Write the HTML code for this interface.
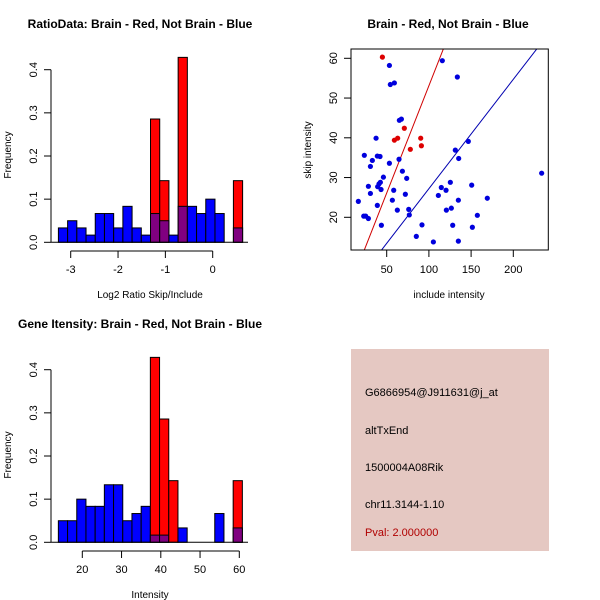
<!DOCTYPE html>
<html><head><meta charset="utf-8"><style>
html,body{margin:0;padding:0;background:#fff;}
svg{display:block;font-family:"Liberation Sans",sans-serif;}
</style></head><body>
<svg id="s" width="600" height="600" viewBox="0 0 600 600">
<rect x="351" y="349" width="198" height="202" fill="#e5c8c2"/>
<g font-size="11">
<text x="365" y="396" fill="#000">G6866954@J911631@j_at</text>
<text x="365" y="434" fill="#000">altTxEnd</text>
<text x="365" y="471" fill="#000">1500004A08Rik</text>
<text x="365" y="508" fill="#000">chr11.3144-1.10</text>
<text x="365" y="536" fill="#b00000">Pval: 2.000000</text>
</g>
</svg>
<script>
// ---- data ----
const ratioBlue = [2,3,2,1,4,4,2,5,2,1,4,3,1,5,5,4,6,4,0,2].map(v=>v/60);
const ratioRed  = [0,0,0,0,0,0,0,0,0,0,2,1,0,3,0,0,0,0,0,1].map(v=>v/7);
const ratioStart = -3.26, ratioWidth = 0.1946;
const ratioTicks = [-3,-2,-1,0];
const intBlue = [3,3,6,5,5,8,8,3,4,5,1,1,0,2,0,0,0,4,0,2].map(v=>v/60);
const intRed  = [0,0,0,0,0,0,0,0,0,0,3,2,1,0,0,0,0,0,0,1].map(v=>v/7);
const intStart = 13.9, intWidth = 2.344;
const intTicks = [20,30,40,50,60];
const freqTicks = [0,0.1,0.2,0.3,0.4];
const blueX = [16.4,22.8,25.1,28.3,23.5,33.0,30.7,28.3,30.7,37.4,38.9,42.1,39.3,38.9,40.9,42.5,43.3,43.7,46.1,53.2,54.3,59.1,53.2,64.6,65.0,67.4,68.6,58.3,56.7,62.6,72.1,73.7,76.1,76.8,85.1,91.8,105.3,111.2,114.7,120.3,120.7,125.4,126.6,128.2,115.9,133.7,131.3,135.3,134.9,134.9,146.7,150.7,151.5,157.4,169.2,233.6];
const blueY = [24.0,20.3,20.3,19.7,35.6,34.3,32.8,27.8,26.0,39.9,35.4,35.3,27.7,23.0,28.4,28.8,27.0,18.0,30.1,58.2,53.4,53.8,33.6,34.6,44.4,44.7,31.6,26.8,24.3,21.8,25.8,29.8,22.0,20.6,15.2,18.1,13.8,25.5,27.5,26.8,21.8,28.8,22.3,18.0,59.4,55.3,36.9,34.8,24.3,14.0,39.1,28.1,17.5,20.5,24.8,31.1];
const redX = [44.9,70.9,59.1,63.0,78.0,90.3,91.1];
const redY = [60.3,42.4,39.4,39.9,37.1,39.9,38.0];
const redLine = [0.54,-0.9];   // slope, intercept
const blueLine = [0.275,-0.3];
const scX = [50,100,150,200], scY = [20,30,40,50,60];

const NS='http://www.w3.org/2000/svg', svg=document.getElementById('s');
function mk(t,a,p){const e=document.createElementNS(NS,t);for(const k in a)e.setAttribute(k,a[k]);(p||svg).appendChild(e);return e;}
function txt(x,y,s,a,p){const e=mk('text',Object.assign({x:x,y:y,'text-anchor':'middle','font-size':11},a||{}),p);e.textContent=s;return e;}

function hist(oy,title,xlab,blue,red,start,w,ticks,xmap){
  const g=mk('g',{});
  
  
  const y0=oy+242.3, ys=v=>y0-v*431.5;
  const t=txt(140,oy+28,title,{'font-weight':'bold','font-size':12},g);
  
  
  for(let i=0;i<blue.length;i++){
    const x1=xmap(start+i*w), x2=xmap(start+(i+1)*w);
    if(red[i]>0){const r=mk('rect',{x:x1,y:ys(red[i]),width:x2-x1,height:y0-ys(red[i]),fill:'#ff0000',stroke:'#000','stroke-width':1},g);
      
      }
    if(blue[i]>0){const c=red[i]>0?'#800080':'#0000ff';
      const r=mk('rect',{x:x1,y:ys(blue[i]),width:x2-x1,height:y0-ys(blue[i]),fill:c,stroke:'#000','stroke-width':1},g);
      
      }
  }
  mk('line',{x1:51,x2:248,y1:y0,y2:y0,stroke:'#000'},g);
  mk('line',{x1:51,x2:51,y1:ys(0),y2:ys(0.4),stroke:'#000'},g);
  freqTicks.forEach(v=>{mk('line',{x1:44,x2:51,y1:ys(v),y2:ys(v),stroke:'#000'},g);
    txt(37,ys(v),v.toFixed(1),{transform:`rotate(-90 37 ${ys(v)})`},g);});
  const tx=ticks.map(xmap);
  mk('line',{x1:tx[0],x2:tx[tx.length-1],y1:oy+251,y2:oy+251,stroke:'#000'},g);
  ticks.forEach(v=>{mk('line',{x1:xmap(v),x2:xmap(v),y1:oy+251,y2:oy+258,stroke:'#000'},g);
    txt(xmap(v),oy+273,String(v),{},g);});
  const xl=txt(150,oy+298,xlab,{'font-size':10},g);
  
  
  const yl=txt(11,oy+155,'Frequency',{'font-size':10,transform:`rotate(-90 11 ${oy+155})`},g);
  
  
}
hist(0,'RatioData: Brain - Red, Not Brain - Blue','Log2 Ratio Skip/Include',ratioBlue,ratioRed,ratioStart,ratioWidth,ratioTicks,v=>212.7+(v)*47.33);
hist(300,'Gene Itensity: Brain - Red, Not Brain - Blue','Intensity',intBlue,intRed,intStart,intWidth,intTicks,v=>82.3+(v-20)*3.925);

// scatter
const sg=mk('g',{});


const L=351,R=548.3,T=49,B=250;
const sx=v=>386.7+(v-50)*0.844, sy=v=>58.3-(v-60)*3.975;
const st=txt(448,28,'Brain - Red, Not Brain - Blue',{'font-weight':'bold','font-size':12},sg);


mk('clipPath',{id:'cp'},sg);
mk('rect',{x:L,y:T,width:R-L,height:B-T},document.getElementById('cp'));
function ln(p,col){const x1=sx(0),x2=sx(300);const l=mk('line',{x1:x1,x2:x2,y1:sy(p[0]*0+p[1]),y2:sy(p[0]*300+p[1]),stroke:col,'clip-path':'url(#cp)'},sg);
  
  }
ln(redLine,'#d00000');ln(blueLine,'#0000b0');
blueX.forEach((v,i)=>{const c=mk('circle',{cx:sx(v),cy:sy(blueY[i]),r:2.6,fill:'#0000dd'},sg);
  
  });
redX.forEach((v,i)=>{const c=mk('circle',{cx:sx(v),cy:sy(redY[i]),r:2.6,fill:'#dd0000'},sg);
  
  });
mk('rect',{x:L,y:T,width:R-L,height:B-T,fill:'none',stroke:'#000'},sg);
scX.forEach(v=>{mk('line',{x1:sx(v),x2:sx(v),y1:B,y2:B+7,stroke:'#000'},sg);txt(sx(v),273,String(v),{},sg);});
scY.forEach(v=>{mk('line',{x1:L-7,x2:L,y1:sy(v),y2:sy(v),stroke:'#000'},sg);txt(337,sy(v),String(v),{transform:`rotate(-90 337 ${sy(v)})`},sg);});
const sxl=txt(449,298,'include intensity',{'font-size':10},sg);


const syl=txt(311,150,'skip intensity',{'font-size':10,transform:'rotate(-90 311 150)'},sg);


</script>
</body></html>
